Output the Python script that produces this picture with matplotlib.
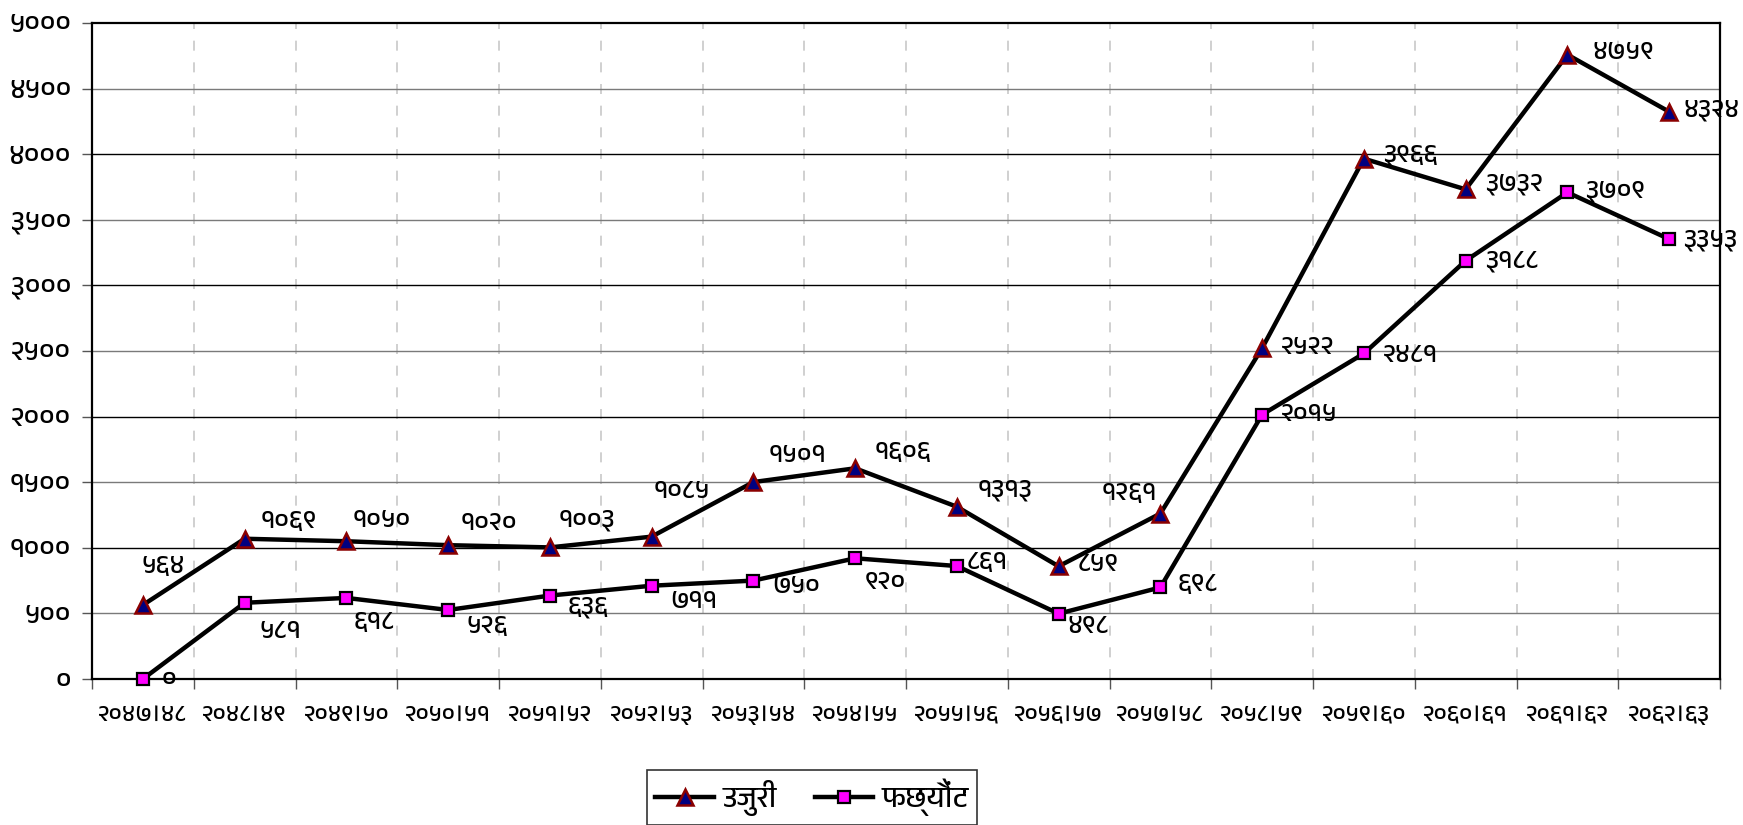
import matplotlib
matplotlib.use("Agg")
import matplotlib.pyplot as plt
from matplotlib import font_manager, ft2font
from matplotlib.ticker import FixedLocator
from matplotlib.lines import Line2D

# ---------------- data ----------------
categories = ["२०४७।४८", "२०४८।४९", "२०४९।५०", "२०५०।५१", "२०५१।५२", "२०५२।५३",
              "२०५३।५४", "२०५४।५५", "२०५५।५६", "२०५६।५७", "२०५७।५८", "२०५८।५९",
              "२०५९।६०", "२०६०।६१", "२०६१।६२", "२०६२।६३"]
ujuri = [564, 1069, 1050, 1020, 1003, 1085, 1501, 1606, 1313, 859, 1261, 2522,
         3966, 3732, 4759, 4324]
fachhyaut = [0, 581, 618, 526, 636, 711, 750, 920, 861, 498, 698, 2015,
             2481, 3188, 3709, 3353]
series_names = ["उजुरी", "फछ्यौंट"]
y_ticks = [0, 500, 1000, 1500, 2000, 2500, 3000, 3500, 4000, 4500, 5000]

# label placement (style): pixel offsets of the label's anchor edge
ujuri_off = [(-1, 39), (16, 17), (6, 21), (12, 22), (9, 27), (2, 45), (15, 27),
             (19, 16), (21, 16), (19, 2), (-3, 20), (19, 1), (19, 3), (19, 5),
             (25, 2), (14, 1)]
ujuri_ha = ["left"] * 10 + ["right"] + ["left"] * 5
fach_off = [(19, 0), (15, -29), (7, -25), (18, -17), (18, -12), (19, -16), (19, -6),
            (10, -24), (10, 4), (9, -13), (17, 3), (19, 0), (19, -2), (19, -1),
            (18, 1), (14, -1)]
fach_ha = ["left"] * 16

DEV = str.maketrans("0123456789", "०१२३४५६७८९")
def dev(n):
    return str(n).translate(DEV)

# ---------------- font ----------------
def find_fonts(ch):
    names = []
    for f in font_manager.fontManager.ttflist:
        try:
            cm = ft2font.FT2Font(f.fname).get_charmap()
        except Exception:
            continue
        if ord(ch) in cm and f.name not in names:
            names.append(f.name)
    return names

cands = find_fonts("०")
cands.sort(key=lambda n: (0 if "Devanagari" in n else 1, n))
fams = cands[:1] + ["DejaVu Sans"]
plt.rcParams["font.family"] = fams

LBL = 19

# ---------------- figure ----------------
fig = plt.figure(figsize=(17.43, 8.25), dpi=100)
ax = fig.add_axes([92/1743, 1-679/825, (1720-92)/1743, (679-23)/825])

x = list(range(len(categories)))
ax.set_xlim(-0.5, len(categories) - 0.5)
ax.set_ylim(0, 5000)

# grid
for v in y_ticks[1:-1]:
    ax.axhline(v, color="black" if v % 1000 == 0 else "#7a7a7a", lw=1.0, zorder=1)
bounds = [i + 0.5 for i in range(len(categories) - 1)]
for b in bounds:
    ax.axvline(b, color="#c8c8c8", lw=1.2, ls=(0, (6, 7)), zorder=0.5)

ax.plot(x, ujuri, color="black", lw=3.2, marker="^", ms=12,
        markerfacecolor="#000080", markeredgecolor="#8B0000", markeredgewidth=1.8,
        zorder=3, clip_on=False)
ax.plot(x, fachhyaut, color="black", lw=3.2, marker="s", ms=9,
        markerfacecolor="#FF00FF", markeredgecolor="black", markeredgewidth=1.6,
        zorder=3, clip_on=False)

for xi, v, off, ha in zip(x, ujuri, ujuri_off, ujuri_ha):
    ax.annotate(dev(v), (xi, v), xytext=off, textcoords="offset pixels",
                ha=ha, va="center", fontsize=LBL, annotation_clip=False, zorder=4)
for xi, v, off, ha in zip(x, fachhyaut, fach_off, fach_ha):
    ax.annotate(dev(v), (xi, v), xytext=off, textcoords="offset pixels",
                ha=ha, va="center", fontsize=LBL, annotation_clip=False, zorder=4)

# axes
ax.yaxis.set_major_locator(FixedLocator(y_ticks))
ax.set_yticklabels([dev(v) for v in y_ticks], fontsize=20)
ax.tick_params(axis="y", which="major", length=7, width=1, color="#555555", pad=8)
ax.set_xticks(x)
ax.set_xticklabels(categories, fontsize=17)
ax.tick_params(axis="x", which="major", length=0, pad=19)
ax.xaxis.set_minor_locator(FixedLocator([i - 0.5 for i in range(len(categories) + 1)]))
ax.tick_params(axis="x", which="minor", length=7, width=1, color="#555555")
for s in ax.spines.values():
    s.set_color("black")
    s.set_linewidth(1.6)

handles = [
    Line2D([], [], color="black", lw=3.2, marker="^", ms=12, markerfacecolor="#000080",
           markeredgecolor="#8B0000", markeredgewidth=1.8),
    Line2D([], [], color="black", lw=3.2, marker="s", ms=9, markerfacecolor="#FF00FF",
           markeredgecolor="black", markeredgewidth=1.6),
]
leg = fig.legend(handles, series_names, loc="center", bbox_to_anchor=(812/1743, 1-797/825),
                 ncol=2, fontsize=21, frameon=True, fancybox=False, edgecolor="black",
                 handlelength=2.0, columnspacing=1.3, handletextpad=0.3,
                 borderpad=0.3)
leg.get_frame().set_linewidth(1.2)

fig.savefig("out.png", dpi=100)
